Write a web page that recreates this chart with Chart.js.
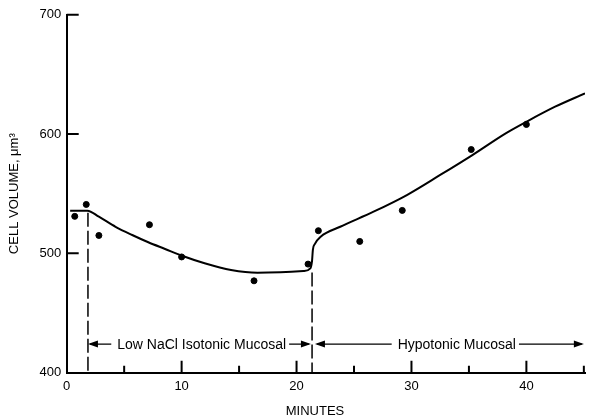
<!DOCTYPE html>
<html lang="en">
<head>
<meta charset="UTF-8">
<title>Cell Volume</title>
<script src="https://cdn.jsdelivr.net/npm/chart.js"></script>
<style>
  html, body { margin: 0; padding: 0; background: #fff; }
</style>
</head>
<body>
<canvas id="volChart" width="590" height="419"></canvas>
<script>
  // measured cell volumes (minutes, um^3)
  const pointMinutes = [0.7, 1.7, 2.8, 7.2, 10.0, 16.3, 21.0, 21.9, 25.5, 29.2, 35.2, 40.0];
  const pointVolumes = [531, 541, 515, 524, 497, 477, 491, 519, 510, 536, 587, 608];

  // fitted curve
  const curveMinutes = [0.3, 1.8, 2.8, 4.25, 5.7, 7.1, 8.56, 10.1, 12.0, 14.3, 16.6, 18.6, 20.6, 21.2, 21.35, 21.42, 21.6, 22.1, 23.8, 26.7, 29.6, 32.5, 35.3, 38.2, 40.0, 42.5, 45.1];
  const curveVolumes = [535.8, 535.8, 530.7, 522.3, 515.4, 509.3, 503.7, 497.8, 491.7, 486.1, 483.8, 484.1, 485.2, 487.5, 494, 503, 508, 514, 522.3, 534.9, 548.9, 565.7, 582.4, 600.6, 610.3, 622.9, 634.1];

  const xLabelTicks = [0, 10, 20, 30, 40];
  const xMajorTicks = [10, 20, 30, 40];
  const xMinorTicks = [5, 15, 25, 35, 45];
  const yLabelTicks = [400, 500, 600, 700];
  const yTicks = [500, 600, 700];

  // solution changes and the arrows below the curve
  const changeMinutes = [1.85, 21.35];
  const changeTops = [534, 484];
  const phaseLabels = ['Low NaCl Isotonic Mucosal', 'Hypotonic Mucosal'];
  const phaseStart = [1.85, 21.6];
  const phaseEnd = [21.25, 45.0];
  const phaseLabelLeft = [4.4, 28.8];
  const arrowLevel = 424;

  const FONT = '"Liberation Sans", Arial, sans-serif';

  function arrowHead(ctx, x, y, dir) {
    ctx.beginPath();
    ctx.moveTo(x, y);
    ctx.lineTo(x - dir * 10, y - 3.5);
    ctx.lineTo(x - dir * 10, y + 3.5);
    ctx.closePath();
    ctx.fill();
  }

  const extras = {
    id: 'extras',
    afterDraw(chart) {
      const ctx = chart.ctx;
      const xs = chart.scales.x, ys = chart.scales.y;
      const base = ys.getPixelForValue(400);
      const left = xs.getPixelForValue(0);
      ctx.save();
      ctx.strokeStyle = '#000';
      ctx.fillStyle = '#000';

      // inward tick marks
      ctx.lineWidth = 2;
      ctx.beginPath();
      xMajorTicks.forEach(v => {
        const px = xs.getPixelForValue(v);
        ctx.moveTo(px, base); ctx.lineTo(px, base - 12);
      });
      xMinorTicks.forEach(v => {
        const px = xs.getPixelForValue(v);
        ctx.moveTo(px, base); ctx.lineTo(px, base - 7);
      });
      yTicks.forEach(v => {
        const py = ys.getPixelForValue(v);
        ctx.moveTo(left, py); ctx.lineTo(left + 12, py);
      });
      ctx.stroke();

      // dashed change lines
      ctx.lineWidth = 1.5;
      ctx.setLineDash([14, 4]);
      changeMinutes.forEach((m, i) => {
        const px = xs.getPixelForValue(m);
        ctx.beginPath();
        ctx.moveTo(px, ys.getPixelForValue(changeTops[i]));
        ctx.lineTo(px, base);
        ctx.stroke();
      });
      ctx.setLineDash([]);

      // phase arrows with labels
      const ay = ys.getPixelForValue(arrowLevel);
      ctx.font = '14px ' + FONT;
      ctx.textBaseline = 'middle';
      ctx.textAlign = 'left';
      ctx.lineWidth = 1.2;
      phaseLabels.forEach((lab, i) => {
        const x0 = xs.getPixelForValue(phaseStart[i]);
        const x1 = xs.getPixelForValue(phaseEnd[i]);
        const tx = xs.getPixelForValue(phaseLabelLeft[i]);
        const tw = ctx.measureText(lab).width;
        ctx.beginPath();
        ctx.moveTo(x0 + 2, ay); ctx.lineTo(tx - 6, ay);
        ctx.moveTo(tx + tw + 3, ay); ctx.lineTo(x1 - 2, ay);
        ctx.stroke();
        arrowHead(ctx, x0, ay, -1);
        arrowHead(ctx, x1, ay, 1);
        ctx.fillText(lab, tx, ay + 1);
      });
      ctx.restore();
    }
  };

  const ctx = document.getElementById('volChart').getContext('2d');
  new Chart(ctx, {
    type: 'scatter',
    data: {
      datasets: [
        {
          type: 'line',
          data: curveMinutes.map((m, i) => ({ x: m, y: curveVolumes[i] })),
          borderColor: '#000',
          borderWidth: 2,
          pointRadius: 0,
          cubicInterpolationMode: 'monotone',
          fill: false
        },
        {
          data: pointMinutes.map((m, i) => ({ x: m, y: pointVolumes[i] })),
          backgroundColor: '#000',
          borderColor: '#000',
          pointRadius: 3
        }
      ]
    },
    options: {
      responsive: false,
      animation: false,
      layout: { padding: { top: 14.7, right: 0, left: 0, bottom: 0 } },
      plugins: { legend: { display: false }, tooltip: { enabled: false } },
      scales: {
        x: {
          type: 'linear',
          min: 0,
          max: 45.1,
          afterFit: s => { s.height = 46.3; },
          afterBuildTicks: s => { s.ticks = xLabelTicks.map(v => ({ value: v })); },
          grid: { drawOnChartArea: false, drawTicks: false },
          border: { display: true, color: '#000', width: 2 },
          ticks: { color: '#000', padding: 6, font: { family: FONT, size: 13 }, autoSkip: false, maxRotation: 0 },
          title: { display: true, text: 'MINUTES      ', color: '#000', font: { family: FONT, size: 13 }, padding: { top: 0, bottom: 0.2 } }
        },
        y: {
          min: 400,
          max: 700,
          afterFit: s => { s.width = 66.7; },
          afterBuildTicks: s => { s.ticks = yLabelTicks.map(v => ({ value: v })); },
          grid: { drawOnChartArea: false, drawTicks: false },
          border: { display: true, color: '#000', width: 2 },
          ticks: { color: '#000', padding: 5.5, font: { family: FONT, size: 13 } },
          title: { display: true, text: 'CELL VOLUME, \u03bcm\u00b3', color: '#000', font: { family: FONT, size: 13 }, padding: { top: 6.5, bottom: 0 } }
        }
      }
    },
    plugins: [extras]
  });
</script>
</body>
</html>
